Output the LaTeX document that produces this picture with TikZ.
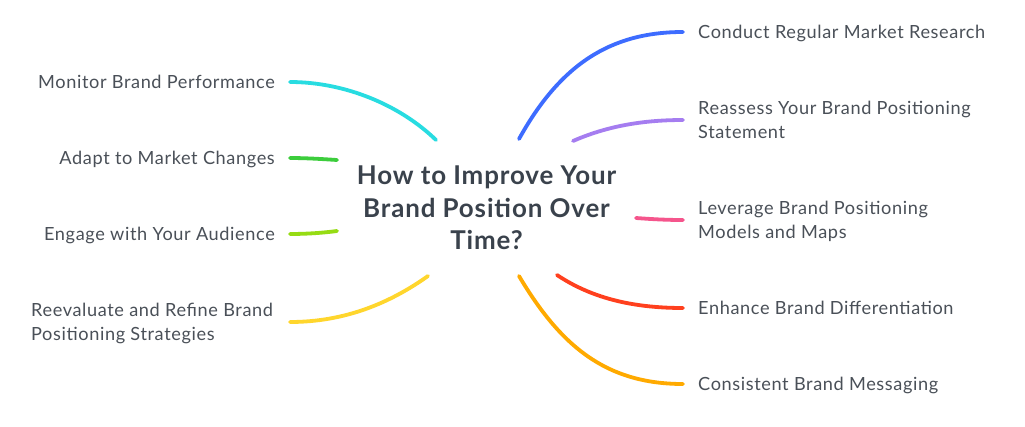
\documentclass[tikz,border=0pt]{standalone}
\usepackage{fontspec}
\setmainfont{Lato}[LetterSpace=3.4]
\definecolor{labelc}{HTML}{4A5058}
\definecolor{titlec}{HTML}{3A424C}
\tikzset{
  lbl/.style={text=labelc,font=\fontsize{18.15pt}{24pt}\selectfont,inner sep=0pt},
  rl/.style={lbl,anchor=west,align=left},
  ll/.style={lbl,anchor=east,align=right},
  branch/.style={line width=3.8pt,line cap=round},
}
\begin{document}
\begin{tikzpicture}[x=1pt,y=-1pt]
\useasboundingbox (0,0) rectangle (1025,426);
\fill[white] (0,0) rectangle (1025,426);
\node[text=titlec,align=center,inner sep=0pt,font=\fontsize{25.9pt}{32.5pt}\selectfont\bfseries] (t) at (486.5,208) {How to Improve Your\\Brand Position Over\\Time?};
\node[rl] (r1) at (698,33) {Conduct Regular Market Research};
\node[rl] (r2) at (698,119.5) {Reassess Your Brand Positioning\\Statement};
\node[rl] (r3) at (698,221.5) {Leverage Brand Positioning\\Models and Maps};
\node[rl] (r4) at (698,308) {Enhance Brand Differentiation};
\node[rl] (r5) at (698,385) {Consistent Brand Messaging};
\node[ll] (l1) at (275,82) {Monitor Brand Performance};
\node[ll] (l2) at (275,159) {Adapt to Market Changes};
\node[ll] (l3) at (275,235) {Engage with Your Audience};
\node[anchor=west,align=left,lbl] (l4) at (31,323.5) {Reevaluate and Refine Brand\\Positioning Strategies};
\coordinate (ar1) at (683,32); \coordinate (sr1) at (519,139);
\coordinate (ar2) at (683,120); \coordinate (sr2) at (573,141);
\coordinate (ar3) at (683,220); \coordinate (sr3) at (636,218);
\coordinate (ar4) at (683,308); \coordinate (sr4) at (557,275);
\coordinate (ar5) at (683,384); \coordinate (sr5) at (519,276);
\coordinate (al1) at (290,82); \coordinate (sl1) at (436,140);
\coordinate (al2) at (290,158); \coordinate (sl2) at (337,160);
\coordinate (al3) at (290,234); \coordinate (sl3) at (337,231);
\coordinate (al4) at (290,322); \coordinate (sl4) at (428,276);
\draw[branch,color={rgb,255:red,61;green,108;blue,255}] (sr1) .. controls (560,65) and (610,32) .. (ar1);
\draw[branch,color={rgb,255:red,165;green,125;blue,240}] (sr2) .. controls (605,127) and (640,120) .. (ar2);
\draw[branch,color={rgb,255:red,245;green,85;blue,140}] (sr3) .. controls (650,219) and (665,220) .. (ar3);
\draw[branch,color={rgb,255:red,255;green,64;blue,30}] (sr4) .. controls (590,297) and (630,308) .. (ar4);
\draw[branch,color={rgb,255:red,255;green,170;blue,0}] (sr5) .. controls (560,345) and (605,384) .. (ar5);
\draw[branch,color={rgb,255:red,40;green,220;blue,225}] (sl1) .. controls (400,105) and (345,82) .. (al1);
\draw[branch,color={rgb,255:red,60;green,205;blue,60}] (sl2) .. controls (322,159) and (305,158) .. (al2);
\draw[branch,color={rgb,255:red,150;green,220;blue,20}] (sl3) .. controls (322,233) and (305,234) .. (al3);
\draw[branch,color={rgb,255:red,255;green,214;blue,45}] (sl4) .. controls (390,303) and (345,322) .. (al4);
\end{tikzpicture}
\end{document}
